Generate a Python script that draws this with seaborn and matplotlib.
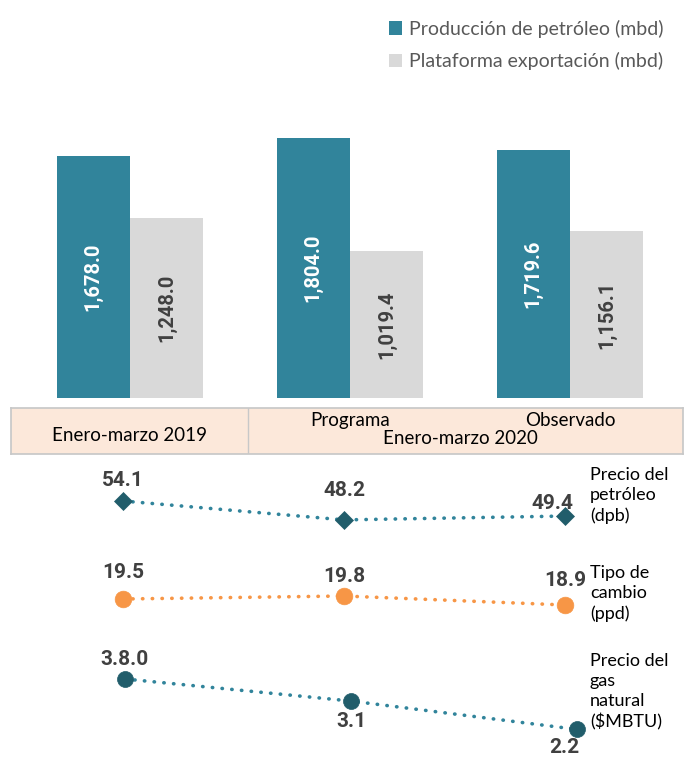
import numpy as np
import pandas as pd
import matplotlib
matplotlib.use("Agg")
import matplotlib.pyplot as plt
import seaborn as sns

sns.set_theme(style="white")
plt.rcParams["font.family"] = ["Lato", "DejaVu Sans"]
negrita = ["Roboto", "DejaVu Sans"]

# datos
periodos = ["Enero-marzo 2019", "Programa", "Observado"]
series = ["Producción de petróleo (mbd)", "Plataforma exportación (mbd)"]
produccion = [1678.0, 1804.0, 1719.6]
exportacion = [1248.0, 1019.4, 1156.1]
precio_petroleo = [54.1, 48.2, 49.4]
tipo_cambio = [19.5, 19.8, 18.9]
precio_gas = [3.8, 3.1, 2.2]
etiquetas_gas = ["3.8.0", "3.1", "2.2"]

teal = "#31849B"
gris = "#D9D9D9"
oscuro = "#215D6B"
naranja = "#F79646"
texto = "#404040"

W, H = 686, 757
fig = plt.figure(figsize=(W / 100, H / 100), dpi=100)


def px_axes(x0, y0, x1, y1):
    # ejes ubicados en pixeles de la figura
    return fig.add_axes([x0 / W, 1 - y1 / H, (x1 - x0) / W, (y1 - y0) / H])


# barras
df = pd.DataFrame({
    "periodo": periodos * 2,
    "serie": [series[0]] * 3 + [series[1]] * 3,
    "valor": produccion + exportacion,
})
ax = px_axes(0, 100, 686, 398)
sns.barplot(data=df, x="periodo", y="valor", hue="serie", palette=[teal, gris],
            width=0.668, saturation=1, ax=ax, linewidth=0)
ax.set_xlim(-130 / 220, 556 / 220)
ax.set_ylim(0, 2068)
ax.set_axis_off()
handles, labels = ax.get_legend_handles_labels()
ax.get_legend().remove()
for cont, col in zip(ax.containers, ["white", texto]):
    ax.bar_label(cont, labels=[f"{v:,.1f}" for v in cont.datavalues], label_type="center",
                 rotation=90, color=col, fontsize=14.5, fontweight="bold", family=negrita)

fig.legend(handles, labels, loc="upper right", bbox_to_anchor=(681 / W, 1 - 2 / H),
           frameon=False, fontsize=14, labelcolor="#595959", handlelength=0.7,
           handleheight=0.7, handletextpad=0.35, labelspacing=0.75)

# franja de periodos
axb = px_axes(11, 408, 683, 454)
axb.set_xlim((11 - 130) / 220, (683 - 130) / 220)
axb.set_ylim(0, 1)
axb.set_facecolor("#FCE8DA")
for s in axb.spines.values():
    s.set_color("#C8C8C8")
axb.set_xticks([])
axb.set_yticks([])
axb.axvline((248 - 130) / 220, color="#C8C8C8", lw=1)
axb.text(0, 0.4, periodos[0], ha="center", va="center", fontsize=13.5, color="black")
axb.text(1, 0.72, periodos[1], ha="center", va="center", fontsize=13.5, color="black")
axb.text(2, 0.72, periodos[2], ha="center", va="center", fontsize=13.5, color="black")
axb.text(1.5, 0.33, "Enero-marzo 2020", ha="center", va="center", fontsize=13.5,
         color="black")

punteado = (0, (0.1, 2.6))
x = np.arange(3)


def panel(y0, y1, x_first, step, ylim, vals, labs, offsets, marker, msize, mcolor, lcolor,
          titulo, ty):
    a = px_axes(0, y0, 686, y1)
    sns.lineplot(x=x, y=vals, ax=a, color=lcolor, lw=2.6, linestyle=punteado,
                 dash_capstyle="round", marker=marker, markersize=msize,
                 markerfacecolor=mcolor, markeredgecolor=mcolor, markeredgewidth=0.5)
    a.set_xlim(-x_first / step, (686 - x_first) / step)
    a.set_ylim(*ylim)
    a.set_axis_off()
    for xi, v, lab, off in zip(x, vals, labs, offsets):
        a.annotate(lab, (xi, v), xytext=off, textcoords="offset points", ha="center",
                   va="center", fontsize=15, fontweight="bold", color=texto, family=negrita)
    fig.text(590 / W, 1 - ty / H, titulo, ha="left", va="top", fontsize=13,
             color="black", linespacing=1.3)


panel(460, 550, 123, 221, (38.79, 66.91), precio_petroleo,
      [f"{v:.1f}" for v in precio_petroleo],
      [(0, 15), (0, 21), (-9, 9)], "D", 9, oscuro, teal,
      "Precio del\npetróleo\n(dpb)", 467)
panel(560, 650, 123, 221, (14.4, 23.4), tipo_cambio,
      [f"{v:.1f}" for v in tipo_cambio],
      [(0, 19), (0, 14), (0, 18)], "o", 12, naranja, naranja,
      "Tipo de\ncambio\n(ppd)", 565)
panel(650, 757, 125, 226, (1.324, 4.72), precio_gas, etiquetas_gas,
      [(0, 14), (0, -15), (-9, -13)], "o", 11.5, oscuro, teal,
      "Precio del\ngas\nnatural\n($MBTU)", 653)

fig.savefig("out.png", dpi=100)
